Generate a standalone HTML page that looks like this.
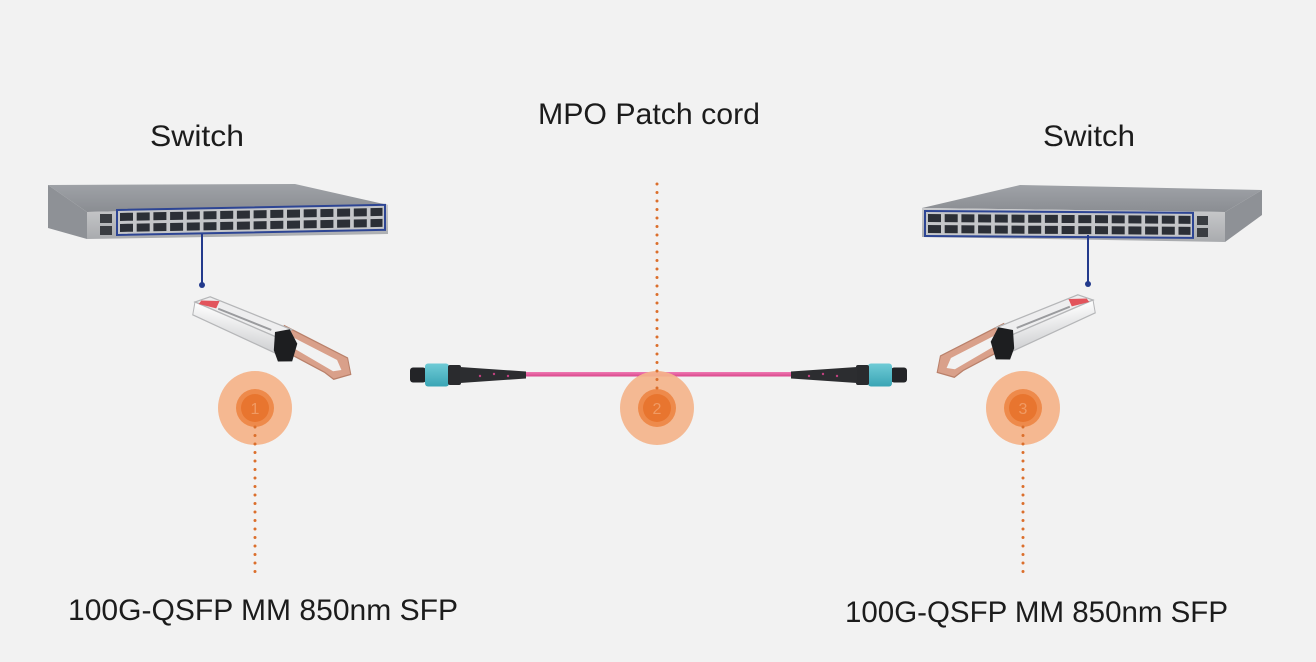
<!DOCTYPE html>
<html>
<head>
<meta charset="utf-8">
<style>
html,body{margin:0;padding:0;background:#f2f2f2;}
svg{display:block;}
text{font-family:"Liberation Sans",sans-serif;fill:#1c1c1c;}
</style>
</head>
<body>
<svg width="1316" height="662" viewBox="0 0 1316 662" xmlns="http://www.w3.org/2000/svg">
<defs>
  <linearGradient id="topL" x1="0" y1="0" x2="0" y2="1">
    <stop offset="0" stop-color="#9fa2a7"/>
    <stop offset="1" stop-color="#8a8d92"/>
  </linearGradient>
  <linearGradient id="front" x1="0" y1="0" x2="0" y2="1">
    <stop offset="0" stop-color="#c9cacc"/>
    <stop offset="1" stop-color="#a9abae"/>
  </linearGradient>
  <linearGradient id="pink" x1="0" y1="0" x2="0" y2="1">
    <stop offset="0" stop-color="#ef7ab3"/>
    <stop offset="1" stop-color="#d9468c"/>
  </linearGradient>
  <linearGradient id="teal" x1="0" y1="0" x2="0" y2="1">
    <stop offset="0" stop-color="#6fcbd6"/>
    <stop offset="1" stop-color="#3aa5b5"/>
  </linearGradient>
  <linearGradient id="body" x1="0" y1="0" x2="0" y2="1">
    <stop offset="0" stop-color="#ffffff"/>
    <stop offset="1" stop-color="#cfd0d2"/>
  </linearGradient>
  <g id="ports">
    <rect x="0" y="0" width="268" height="25" fill="#c4c6c9" stroke="#2d4594" stroke-width="2"/>
    <g fill="#2b2f36">
      <rect x="3" y="3" width="13" height="8"/><rect x="3" y="14" width="13" height="8"/>
      <rect x="19.7" y="3" width="13" height="8"/><rect x="19.7" y="14" width="13" height="8"/>
      <rect x="36.4" y="3" width="13" height="8"/><rect x="36.4" y="14" width="13" height="8"/>
      <rect x="53.1" y="3" width="13" height="8"/><rect x="53.1" y="14" width="13" height="8"/>
      <rect x="69.8" y="3" width="13" height="8"/><rect x="69.8" y="14" width="13" height="8"/>
      <rect x="86.5" y="3" width="13" height="8"/><rect x="86.5" y="14" width="13" height="8"/>
      <rect x="103.2" y="3" width="13" height="8"/><rect x="103.2" y="14" width="13" height="8"/>
      <rect x="119.9" y="3" width="13" height="8"/><rect x="119.9" y="14" width="13" height="8"/>
      <rect x="136.6" y="3" width="13" height="8"/><rect x="136.6" y="14" width="13" height="8"/>
      <rect x="153.3" y="3" width="13" height="8"/><rect x="153.3" y="14" width="13" height="8"/>
      <rect x="170" y="3" width="13" height="8"/><rect x="170" y="14" width="13" height="8"/>
      <rect x="186.7" y="3" width="13" height="8"/><rect x="186.7" y="14" width="13" height="8"/>
      <rect x="203.4" y="3" width="13" height="8"/><rect x="203.4" y="14" width="13" height="8"/>
      <rect x="220.1" y="3" width="13" height="8"/><rect x="220.1" y="14" width="13" height="8"/>
      <rect x="236.8" y="3" width="13" height="8"/><rect x="236.8" y="14" width="13" height="8"/>
      <rect x="253.5" y="3" width="12" height="8"/><rect x="253.5" y="14" width="12" height="8"/>
    </g>
  </g>
  <g id="xcvr">
    <!-- pull tab -->
    <path d="M92 6 L160 22 L166 34 L150 40 L140 36 L100 26 L92 24 Z" fill="#d9a08a" stroke="#b9806a" stroke-width="1"/>
    <path d="M104 14 L150 25 L156 32 L148 34 L106 22 Z" fill="#f2f2f2"/>
    <!-- body -->
    <polygon points="0,0 14,-6 100,8 88,16" fill="#eeeeef" stroke="#b5b6b8" stroke-width="1"/>
    <polygon points="0,0 88,16 88,28 0,10" fill="url(#body)" stroke="#b5b6b8" stroke-width="1"/>
    <polygon points="6,-2 24,-4 22,2 4,1" fill="#e2545c"/>
    <line x1="24" y1="2" x2="80" y2="11" stroke="#9a9b9e" stroke-width="1.5"/>
    <!-- black connector -->
    <polygon points="84,12 98,8 108,18 106,32 92,34 86,26" fill="#1d1e20"/>
  </g>
  <g id="mpo">
    <rect x="0" y="-7.5" width="16" height="15" rx="3" fill="#232427"/>
    <rect x="15" y="-11.5" width="24" height="23" rx="3" fill="url(#teal)"/>
    <rect x="38" y="-10" width="13" height="20" rx="2" fill="#2a2b2e"/>
    <polygon points="50,-8 116,-3.5 116,3.5 50,8" fill="#2c2d30"/>
    <circle cx="70" cy="1" r="1.2" fill="#c0407e"/>
    <circle cx="84" cy="-1" r="1.2" fill="#c0407e"/>
    <circle cx="98" cy="1" r="1.2" fill="#c0407e"/>
  </g>
</defs>

<rect width="1316" height="662" fill="#f2f2f2"/>

<!-- Labels -->
<text x="150" y="146" font-size="30" textLength="94" lengthAdjust="spacingAndGlyphs">Switch</text>
<text x="1043" y="146" font-size="30" textLength="92" lengthAdjust="spacingAndGlyphs">Switch</text>
<text x="538" y="124" font-size="30" textLength="222" lengthAdjust="spacingAndGlyphs">MPO Patch cord</text>
<text x="68" y="620" font-size="30" textLength="390" lengthAdjust="spacingAndGlyphs">100G-QSFP MM 850nm SFP</text>
<text x="845" y="622" font-size="30" textLength="383" lengthAdjust="spacingAndGlyphs">100G-QSFP MM 850nm SFP</text>

<!-- Left switch -->
<polygon points="48,185 295,184 388,205 87,212" fill="url(#topL)"/>
<polygon points="48,185 87,212 87,239 48,228" fill="#8e9196"/>
<polygon points="87,212 388,205 388,234 87,239" fill="url(#front)"/>
<rect x="100" y="214" width="12" height="9" fill="#3a3d42"/>
<rect x="100" y="226" width="12" height="9" fill="#3a3d42"/>
<g transform="translate(117,210) skewY(-1.1)"><use href="#ports"/></g>
<line x1="202" y1="234" x2="202" y2="284" stroke="#233a8c" stroke-width="2"/>
<circle cx="202" cy="285" r="3" fill="#233a8c"/>

<!-- Right switch -->
<polygon points="922,208 1020,185 1262,190 1225,212" fill="url(#topL)"/>
<polygon points="1225,212 1262,190 1262,215 1225,242" fill="#8e9196"/>
<polygon points="922,208 1225,212 1225,242 922,237" fill="url(#front)"/>
<rect x="1197" y="216" width="11" height="9" fill="#3a3d42"/>
<rect x="1197" y="228" width="11" height="9" fill="#3a3d42"/>
<g transform="translate(925,211) skewY(0.4)"><use href="#ports"/></g>
<line x1="1088" y1="235" x2="1088" y2="283" stroke="#233a8c" stroke-width="2"/>
<circle cx="1088" cy="284" r="3" fill="#233a8c"/>

<!-- Transceivers -->
<g transform="translate(195,302) rotate(10) scale(1,1.3)"><use href="#xcvr"/></g>
<g transform="translate(1093,300) scale(-1,1) rotate(10) scale(1,1.3)"><use href="#xcvr"/></g>

<!-- MPO cable -->
<rect x="520" y="372" width="276" height="4.5" fill="url(#pink)"/>
<g transform="translate(410,375)"><use href="#mpo"/></g>
<g transform="translate(907,375) scale(-1,1)"><use href="#mpo"/></g>

<!-- Circles -->
<g>
  <circle cx="255" cy="408" r="37" fill="#f4b48b" opacity="0.95"/>
  <circle cx="255" cy="408" r="19" fill="#ee8a4b"/>
  <circle cx="255" cy="408" r="14" fill="#e8752f"/>
  <text x="255" y="414" font-size="16" text-anchor="middle" style="fill:#f09a63">1</text>
</g>
<g>
  <circle cx="657" cy="408" r="37" fill="#f4b48b" opacity="0.92"/>
  <circle cx="657" cy="408" r="19" fill="#ee8a4b"/>
  <circle cx="657" cy="408" r="14" fill="#e8752f"/>
  <text x="657" y="414" font-size="16" text-anchor="middle" style="fill:#f09a63">2</text>
</g>
<g>
  <circle cx="1023" cy="408" r="37" fill="#f4b48b" opacity="0.95"/>
  <circle cx="1023" cy="408" r="19" fill="#ee8a4b"/>
  <circle cx="1023" cy="408" r="14" fill="#e8752f"/>
  <text x="1023" y="414" font-size="16" text-anchor="middle" style="fill:#f09a63">3</text>
</g>

<!-- Dotted leaders -->
<g stroke="#db6f2c" stroke-width="3" stroke-linecap="round" stroke-dasharray="0 8.5" fill="none">
  <line x1="255" y1="427" x2="255" y2="578"/>
  <line x1="1023" y1="427" x2="1023" y2="578"/>
  <line x1="657" y1="184" x2="657" y2="390"/>
</g>
</svg>
</body>
</html>
